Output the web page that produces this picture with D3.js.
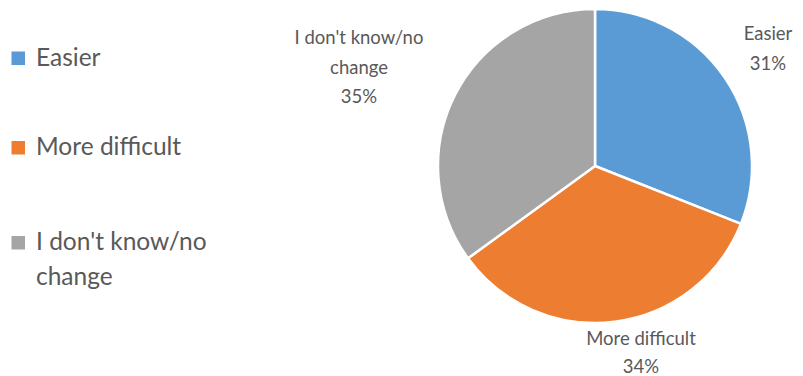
<!DOCTYPE html>
<html>
<head>
<meta charset="utf-8">
<script src="https://cdn.jsdelivr.net/npm/d3@7"></script>
<style>
  html, body { margin: 0; padding: 0; background: #fff; }
  svg { display: block; }
  text { font-family: Lato, "Open Sans", sans-serif; fill: #595959; }
</style>
</head>
<body>
<svg id="chart" width="803" height="376"></svg>
<script>
// Survey answers and their shares (percent)
const categories = ["Easier", "More difficult", "I don't know/no change"];
const shares = [31, 34, 35];
const colors = ["#5B9BD5", "#ED7D31", "#A5A5A5"];

// Legend wording (wrapped) and slice label wording (wrapped)
const legendLines = [["Easier"], ["More difficult"], ["I don't know/no", "change"]];
const sliceLabelLines = [["Easier"], ["More difficult"], ["I don't know/no", "change"]];

const svg = d3.select("#chart");

// ---- Pie ----
const cx = 595, cy = 166, radius = 157;
const pie = d3.pie().sort(null).value(d => d.value);
const arcs = pie(categories.map((c, i) => ({ name: c, value: shares[i], color: colors[i] })));
const arc = d3.arc().innerRadius(0).outerRadius(radius);

const g = svg.append("g").attr("transform", `translate(${cx},${cy})`);
g.selectAll("path")
  .data(arcs)
  .join("path")
  .attr("d", arc)
  .attr("fill", d => d.data.color)
  .attr("stroke", "#fff")
  .attr("stroke-width", 2.5)
  .attr("stroke-linejoin", "round");

// ---- Slice labels (placed outside the rim) ----
const labelFont = 18.5;
// anchor points (first baseline) and line spacing for each label block
const labelAnchor = [
  { x: 768 - cx, y: 40 - cy, gap: 30 },
  { x: 641 - cx, y: 345 - cy, gap: 27.5 },
  { x: 359 - cx, y: 44 - cy, gap: 29.5 }
];
arcs.forEach((d, i) => {
  const lines = sliceLabelLines[i].concat([d.data.value + "%"]);
  const t = g.append("text")
    .attr("text-anchor", "middle")
    .attr("font-size", labelFont);
  lines.forEach((ln, k) => {
    t.append("tspan")
      .attr("x", labelAnchor[i].x)
      .attr("y", labelAnchor[i].y + k * labelAnchor[i].gap)
      .text(ln);
  });
});

// ---- Legend ----
const legendFont = 24.5;
const legendBaselines = [65.5, 155, 250];
const legendLineGap = 35;
const leg = svg.append("g");
categories.forEach((c, i) => {
  const base = legendBaselines[i];
  leg.append("rect")
    .attr("x", 11.5).attr("y", base - 14)
    .attr("width", 13.5).attr("height", 13.5)
    .attr("fill", colors[i]);
  const t = leg.append("text").attr("font-size", legendFont);
  legendLines[i].forEach((ln, k) => {
    t.append("tspan")
      .attr("x", 36)
      .attr("y", base + k * legendLineGap)
      .text(ln);
  });
});
</script>
</body>
</html>
